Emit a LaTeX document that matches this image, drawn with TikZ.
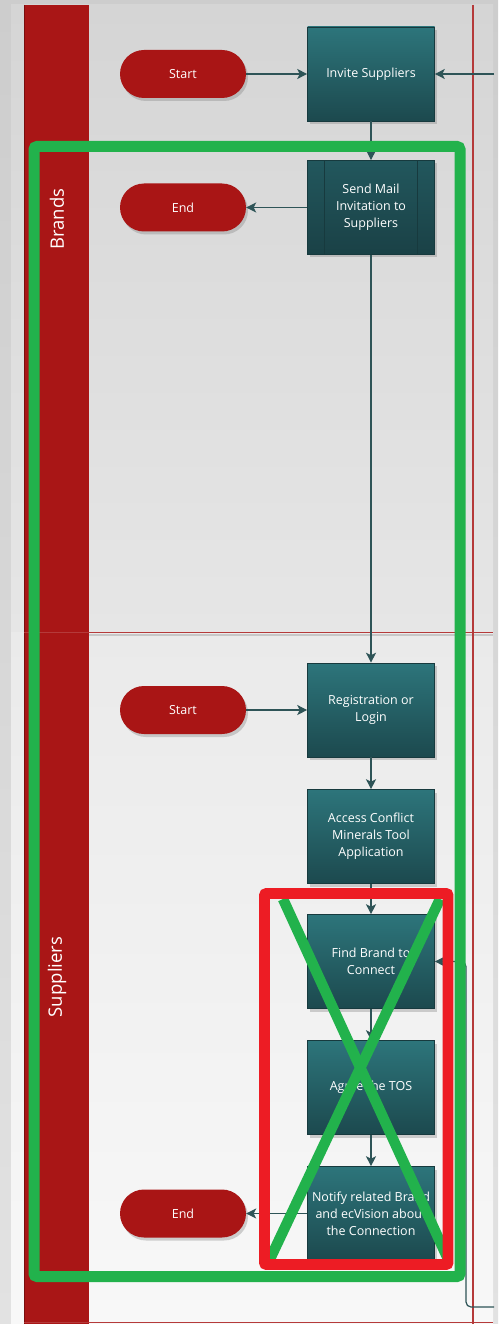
\documentclass[tikz,border=0pt]{standalone}
\usepackage{fontspec}
\setmainfont{Open Sans}
\usetikzlibrary{arrows.meta,shadows}
\definecolor{outerbg}{HTML}{CDCDCD}
\definecolor{outerbgb}{HTML}{E2E2E2}
\definecolor{brandtop}{HTML}{D5D5D5}
\definecolor{brandbot}{HTML}{E6E6E6}
\definecolor{suptop}{HTML}{EAEAEA}
\definecolor{supbot}{HTML}{F8F8F8}
\definecolor{headred}{HTML}{A91616}
\definecolor{headdark}{HTML}{7A0E0E}
\definecolor{lanered}{HTML}{B53A3A}
\definecolor{termred}{HTML}{A91515}
\definecolor{tealtop}{HTML}{2D757B}
\definecolor{tealbot}{HTML}{1C494E}
\definecolor{tealdtop}{HTML}{22575D}
\definecolor{tealdbot}{HTML}{1A4146}
\definecolor{tealedge}{HTML}{173A3E}
\definecolor{conncol}{HTML}{2E5457}
\definecolor{markgreen}{HTML}{22B24C}
\definecolor{markred}{HTML}{ED1C24}
\newcommand{\nodefnt}{\fontsize{12.5}{17}\selectfont}
\newcommand{\lanefnt}{\fontsize{18.5}{22}\selectfont}
\tikzset{
  procbox/.style={draw=tealedge, line width=0.6pt, top color=tealtop, bottom color=tealbot,
    minimum width=127pt, minimum height=94pt, inner sep=2pt, align=center, text=white,
    font=\nodefnt, drop shadow={opacity=0.35, shadow xshift=2pt, shadow yshift=-3pt}},
  subproc/.style={procbox, top color=tealdtop, bottom color=tealdbot},
  terminal/.style={rounded corners=24pt, fill=termred, minimum width=126pt, minimum height=48pt,
    inner sep=0pt, text=white, font=\nodefnt,
    drop shadow={opacity=0.35, shadow xshift=2pt, shadow yshift=-3pt}},
  conn/.style={draw=conncol, line width=1.2pt, -{Stealth[length=10pt,width=10pt,inset=2.5pt]}},
  lanelabel/.style={rotate=90, text=white, font=\lanefnt},
  subline/.style={draw=tealedge, line width=0.8pt}
}
\begin{document}
\begin{tikzpicture}[x=1pt,y=-1pt]
\useasboundingbox (0,0) rectangle (498,1324);
% background
\fill[top color=outerbg, bottom color=outerbgb] (0,0) rectangle (498,1324);
\fill[top color=brandtop, bottom color=brandbot] (11,5) rectangle (493,632);
\fill[top color=suptop, bottom color=supbot] (11,632) rectangle (493,1324);
% lane header
\fill[headred] (24,5) rectangle (89,1324);
\draw[headdark, line width=1pt] (24.5,5) -- (24.5,1324);
\draw[black, opacity=0.15, line width=2pt] (89,635) -- (493,635);
\draw[lanered, line width=1pt] (24,632) -- (493,632);
\draw[lanered, line width=1.2pt] (473,5) -- (473,1324);
\draw[lanered, line width=1.2pt] (24,1322.5) -- (493,1322.5);
\node[lanelabel] (brandslbl) at (57,219) {Brands};
\node[lanelabel] (suplbl) at (57,977) {Suppliers};
% nodes
\node[terminal] (start1) at (183,74) {Start};
\node[procbox] (invite) at (371,74) {Invite Suppliers};
\node[subproc] (send) at (371,207.5) {Send Mail\\Invitation to\\Suppliers};
\node[terminal] (end1) at (183,207.5) {End};
\draw[subline] ([xshift=17pt]send.north west) -- ([xshift=17pt]send.south west);
\draw[subline] ([xshift=-17pt]send.north east) -- ([xshift=-17pt]send.south east);
\node[procbox] (reg) at (371,710) {Registration or\\Login};
\node[terminal] (start2) at (183,710) {Start};
\node[procbox] (access) at (371,836.5) {Access Conflict\\Minerals Tool\\Application};
\node[procbox] (find) at (371,961.5) {Find Brand to\\Connect};
\node[procbox] (agree) at (371,1087.5) {Agree the TOS};
\node[procbox] (notify) at (371,1213.5) {Notify related Brand\\and ecVision about\\the Connection};
\node[terminal] (end2) at (183,1213.5) {End};
% connectors
\coordinate (inR) at (494,74);
\coordinate (fR) at (494,1307);
\coordinate (fC) at (466,1307);
\draw[conn] (start1) -- (invite);
\draw[conn] (inR) -- (invite);
\draw[conn] (invite) -- (send);
\draw[conn] (send) -- (end1);
\draw[conn] (send) -- (reg);
\draw[conn] (start2) -- (reg);
\draw[conn] (reg) -- (access);
\draw[conn] (access) -- (find);
\draw[conn] (find) -- (agree);
\draw[conn] (agree) -- (notify);
\draw[conn] (notify) -- (end2);
\draw[conn, rounded corners=5pt] (fR) -- (fC) |- (find.east);
% annotations
\begin{scope}
\clip (264.5,893.5) rectangle (448,1264.5);
\draw[markgreen, line width=10.5pt] (283,899) -- (448,1259);
\draw[markgreen, line width=10.5pt] (440,899) -- (270,1259);
\end{scope}
\draw[markred, line width=10.8pt, rounded corners=2pt] (264.5,893.5) rectangle (448,1264.5);
\draw[markgreen, line width=11pt, rounded corners=3pt] (34,146.5) rectangle (460,1276.5);
\end{tikzpicture}
\end{document}
